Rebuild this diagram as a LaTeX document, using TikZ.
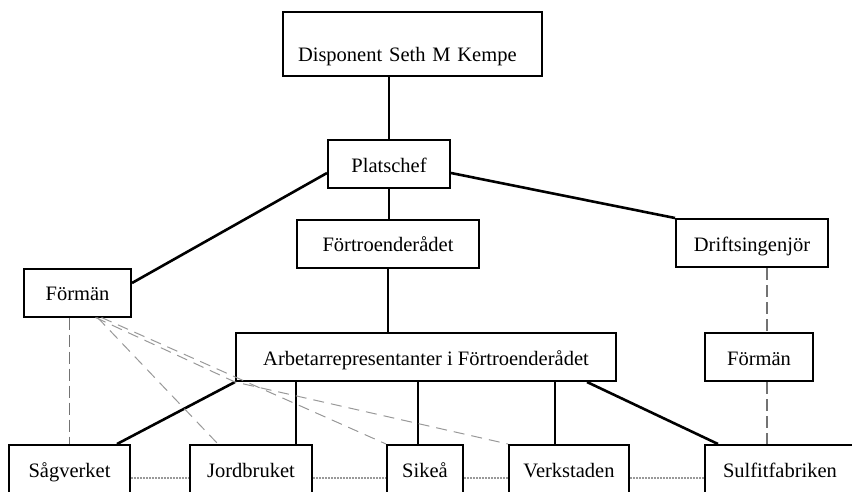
\documentclass[tikz,border=0pt]{standalone}
\usepackage{fontspec}
\setmainfont{Liberation Serif}
\begin{document}
\begin{tikzpicture}[x=1pt,y=-1pt,
        box/.style={draw,line width=2pt,minimum height=48pt,inner sep=0pt,text height=18pt,text depth=2pt},
        tie/.style={line width=2pt},
        heavy/.style={line width=2.6pt},
        vdash/.style={line width=1.2pt,dgray,dash pattern=on 12pt off 5pt},
        ddash/.style={line width=1pt,lgray,dash pattern=on 11pt off 7pt},
        dots/.style={line width=1.2pt,lgray,dash pattern=on 1.5pt off 1.5pt}]
    \fontsize{20.5}{24}\selectfont
    \colorlet{dgray}{black!55}
    \colorlet{lgray}{black!40}
    \clip (0,0) rectangle (852,491);

    \node [box,minimum width=259pt,minimum height=64pt,text width=229pt,align=left,text height=36pt] (disp) at (412.5,44) {Disponent Seth M Kempe};
    \node [box,minimum width=122pt] (plats) at (389,164) {Platschef};
    \node [box,minimum width=182pt] (fortro) at (388,243.5) {Förtroenderådet};
    \node [box,minimum width=107pt] (formanL) at (77.5,292.5) {Förmän};
    \node [box,minimum width=152pt] (drift) at (752,243) {Driftsingenjör};
    \node [box,minimum width=380pt] (arb) at (426,357) {Arbetarrepresentanter i Förtroenderådet};
    \node [box,minimum width=108pt] (formanR) at (759,357) {Förmän};
    \node [box,minimum width=121pt] (sag) at (69.5,469) {Sågverket};
    \node [box,minimum width=122pt] (jord) at (251,469) {Jordbruket};
    \node [box,minimum width=76pt] (sike) at (425,469) {Sikeå};
    \node [box,minimum width=120pt] (verk) at (569,469) {Verkstaden};
    \node [box,minimum width=150pt] (sulf) at (780,469) {Sulfitfabriken};

    \draw [tie] (plats.north) -- (plats.north |- disp.south);
    \draw [tie] (plats.south) -- (plats.south |- fortro.north);
    \draw [heavy] ([yshift=-9pt]plats.west) -- ([yshift=9.5pt]formanL.east);
    \draw [heavy] ([yshift=-9pt]plats.east) -- (drift.north west);
    \draw [tie] (fortro.south) -- (fortro.south |- arb.north);
    \draw [heavy] (arb.south west) -- ([xshift=47.5pt]sag.north);
    \draw [tie] ([xshift=45pt]jord.north) -- ([xshift=45pt]jord.north |- arb.south);
    \draw [tie] ([xshift=-7pt]sike.north) -- ([xshift=-7pt]sike.north |- arb.south);
    \draw [tie] ([xshift=-14pt]verk.north) -- ([xshift=-14pt]verk.north |- arb.south);
    \draw [heavy] ([xshift=-30pt]arb.south east) -- ([xshift=14pt]sulf.north west);

    \draw [vdash] ([xshift=15pt]drift.south) -- ([xshift=15pt]drift.south |- formanR.north);
    \draw [vdash] ([xshift=8pt]formanR.south) -- ([xshift=8pt]formanR.south |- sulf.north);
    \draw [vdash] (sag.north |- formanL.south) -- (sag.north);
    \draw [ddash] ([xshift=20pt]formanL.south) -- ([xshift=-33pt]jord.north);
    \draw [ddash] ([xshift=24pt]formanL.south) -- (sike.north west);
    \draw [ddash] ([xshift=18pt]formanL.south) -- (arb.south west) -- (verk.north west);

    \draw [dots] ([yshift=-9pt]sag.east) -- ([yshift=-9pt]jord.west);
    \draw [dots] ([yshift=-9pt]jord.east) -- ([yshift=-9pt]sike.west);
    \draw [dots] ([yshift=-9pt]sike.east) -- ([yshift=-9pt]verk.west);
    \draw [dots] ([yshift=-9pt]verk.east) -- ([yshift=-9pt]sulf.west);
\end{tikzpicture}
\end{document}
